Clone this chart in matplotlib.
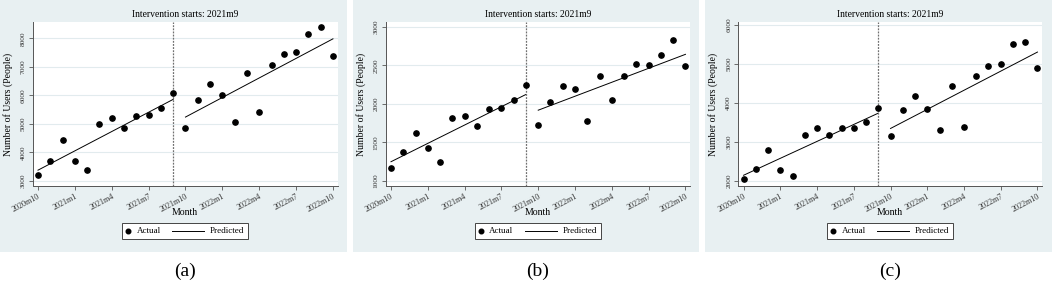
import matplotlib
matplotlib.use("Agg")
import matplotlib.pyplot as plt
from matplotlib.patches import Rectangle
from matplotlib.lines import Line2D

plt.rcParams['font.family'] = ['Liberation Serif', 'DejaVu Serif']

# ---------------- data ----------------
months = ["2020m10", "2020m11", "2020m12", "2021m1", "2021m2", "2021m3", "2021m4",
          "2021m5", "2021m6", "2021m7", "2021m8", "2021m9", "2021m10", "2021m11",
          "2021m12", "2022m1", "2022m2", "2022m3", "2022m4", "2022m5", "2022m6",
          "2022m7", "2022m8", "2022m9", "2022m10"]
tick_labels = ["2020m10", "2021m1", "2021m4", "2021m7", "2021m10",
               "2022m1", "2022m4", "2022m7", "2022m10"]
intervention_month = "2021m9"

actual_a = [3210, 3690, 4430, 3710, 3370, 4980, 5190, 4870, 5280, 5300, 5550, 6090,
            4870, 5840, 6410, 6030, 5060, 6790, 5430, 7050, 7450, 7510, 8160, 8400, 7380]
actual_b = [1172, 1376, 1622, 1424, 1246, 1811, 1837, 1707, 1931, 1940, 2048, 2242,
            1724, 2018, 2233, 2190, 1780, 2359, 2044, 2359, 2523, 2500, 2631, 2831, 2491]
actual_c = [2036, 2310, 2790, 2285, 2120, 3170, 3350, 3162, 3350, 3350, 3496, 3864,
            3144, 3823, 4170, 3838, 3290, 4436, 3386, 4692, 4938, 5008, 5522, 5555, 4887]

# predicted segment endpoints (start, end) before / after intervention
pred_a_pre, pred_a_post = [3380, 5860], [5240, 7980]
pred_b_pre, pred_b_post = [1250, 2122], [1918, 2642]
pred_c_pre, pred_c_post = [2140, 3735], [3342, 5305]

yticks_a = [3000, 4000, 5000, 6000, 7000, 8000]
yticks_b = [1000, 1500, 2000, 2500, 3000]
yticks_c = [2000, 3000, 4000, 5000, 6000]

panel_labels = ["(a)", "(b)", "(c)"]
legend_labels = ["Actual", "Predicted"]
title_text = "Intervention starts: 2021m9"
xlabel_text = "Month"
ylabel_text = "Number of Users (People)"

# ---------------- layout ----------------
W, H = 1052, 281
fig = plt.figure(figsize=(W / 100, H / 100), dpi=100)
fig.patch.set_facecolor('white')

BG = '#e8f0f2'
GRID = '#e2ebee'


def fx(px):
    return px / W


def fy(py):
    return 1 - py / H


panels = [
    dict(bg=(0, 347), ax=(32.7, 337.5), ylim=(2843, 8570), yt=yticks_a,
         act=actual_a, pre=pred_a_pre, post=pred_a_post),
    dict(bg=(353, 699), ax=(385.7, 690), ylim=(942, 3061), yt=yticks_b,
         act=actual_b, pre=pred_b_pre, post=pred_b_post),
    dict(bg=(705, 1052), ax=(738.3, 1042), ylim=(1877, 6077), yt=yticks_c,
         act=actual_c, pre=pred_c_pre, post=pred_c_post),
]

top_px, bot_px = 22, 185.5
n = len(months)
x = list(range(n))
iv = months.index(intervention_month)

for i, p in enumerate(panels):
    b0, b1 = p['bg']
    fig.add_artist(Rectangle((fx(b0), fy(251.5)), fx(b1 - b0), 251.5 / H,
                             transform=fig.transFigure, facecolor=BG,
                             edgecolor='none', zorder=-10))
    l, r = p['ax']
    ax = fig.add_axes([fx(l), fy(bot_px), fx(r - l), (bot_px - top_px) / H])
    ax.set_zorder(1)
    ax.set_facecolor('white')
    ax.set_xlim(-0.43, n - 1 + 0.37)
    ax.set_ylim(*p['ylim'])

    for t in p['yt']:
        ax.axhline(t, color=GRID, lw=0.8, zorder=1)

    ax.plot(x, p['act'], 'o', color='black', ms=3.8, zorder=3)
    ax.plot([0, iv], p['pre'], '-', color='black', lw=0.7, zorder=2)
    ax.plot([iv + 1, n - 1], p['post'], '-', color='black', lw=0.7, zorder=2)
    ax.axvline(iv, color='#707070', lw=0.9, ls=(0, (1.5, 1.0)), zorder=2)

    for s in ['top', 'right']:
        ax.spines[s].set_visible(False)
    for s in ['left', 'bottom']:
        ax.spines[s].set_color('#555555')
        ax.spines[s].set_linewidth(0.7)

    ax.set_yticks(p['yt'])
    ax.set_yticklabels([str(t) for t in p['yt']], rotation=90, va='center',
                       fontsize=5.3, color='#333333')
    ticks = [months.index(t) for t in tick_labels]
    ax.set_xticks(ticks)
    ax.set_xticklabels(tick_labels, rotation=28, ha='right', rotation_mode='anchor',
                       fontsize=5.9, color='#333333')
    ax.tick_params(axis='both', length=3, width=0.6, color='#555555', pad=2)

    ax.set_title(title_text, fontsize=6.9, pad=3.5)
    cx = (l + r) / 2
    fig.text(fx(cx), fy(212.7), xlabel_text, ha='center', va='center', fontsize=7)
    fig.text(fx(l - 25), fy(104), ylabel_text, ha='center', va='center',
             rotation=90, fontsize=7)

    # legend box (drawn manually to match the compact layout)
    fig.add_artist(Rectangle((fx(cx - 62.8), fy(239)), fx(125.6), 15.7 / H,
                             transform=fig.transFigure, facecolor='white',
                             edgecolor='#444444', lw=0.7, zorder=2))
    fig.add_artist(Line2D([fx(cx - 56.8)], [fy(231)], marker='o', ls='none',
                          color='black', ms=3.3, transform=fig.transFigure, zorder=3))
    fig.text(fx(cx - 48.5), fy(231), legend_labels[0], ha='left', va='center',
             fontsize=6.5, zorder=3)
    fig.add_artist(Line2D([fx(cx - 12.8), fx(cx + 18.8)], [fy(231), fy(231)],
                          color='black', lw=0.7, transform=fig.transFigure, zorder=3))
    fig.text(fx(cx + 24.8), fy(231), legend_labels[1], ha='left', va='center',
             fontsize=6.5, zorder=3)

    fig.text(fx(cx), fy(271.7), panel_labels[i], ha='center', va='center',
             fontsize=14)

fig.savefig('out.png', dpi=100, facecolor='white')
